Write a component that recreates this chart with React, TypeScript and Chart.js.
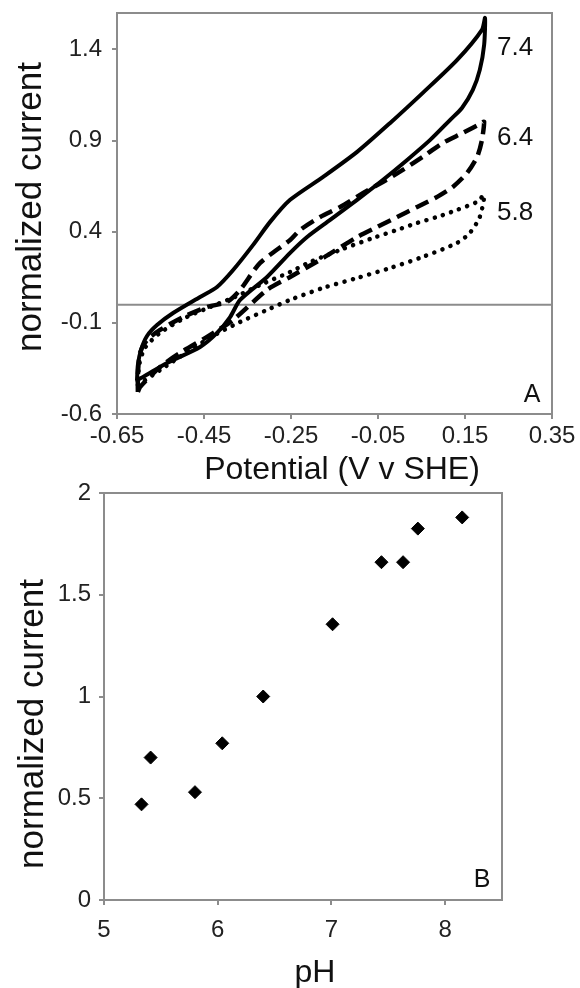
import React, { useEffect, useRef } from "react";
import { Chart, registerables } from "chart.js";

Chart.register(...registerables);

// ---------- Panel A: cyclic voltammograms (V v SHE, normalized current) ----------
const cv74LowerV = [-0.604, -0.590, -0.535, -0.459, -0.420, -0.390, -0.367, -0.305, -0.252, -0.213, -0.160, -0.098, -0.039, 0.017, 0.070, 0.116, 0.143, 0.168, 0.184, 0.194, 0.196];
const cv74LowerI = [-0.413, -0.397, -0.320, -0.232, -0.155, -0.068, 0.026, 0.152, 0.284, 0.371, 0.465, 0.575, 0.684, 0.794, 0.904, 1.014, 1.079, 1.178, 1.288, 1.425, 1.573];
const cv74UpperV = [0.189, 0.132, 0.053, -0.022, -0.098, -0.176, -0.252, -0.298, -0.337, -0.383, -0.420, -0.459, -0.521, -0.558, -0.581, -0.595, -0.602, -0.604];
const cv74UpperI = [1.508, 1.343, 1.162, 0.997, 0.838, 0.701, 0.575, 0.454, 0.328, 0.190, 0.097, 0.042, -0.046, -0.112, -0.172, -0.249, -0.331, -0.413];

const cv64LowerV = [-0.602, -0.597, -0.551, -0.505, -0.443, -0.383, -0.305, -0.252, -0.176, -0.098, -0.052, -0.006, 0.040, 0.086, 0.122, 0.155, 0.178, 0.189, 0.194];
const cv64LowerI = [-0.479, -0.452, -0.342, -0.265, -0.177, -0.084, 0.081, 0.152, 0.256, 0.371, 0.426, 0.481, 0.536, 0.591, 0.646, 0.723, 0.811, 0.904, 1.003];
const cv64UpperV = [0.189, 0.145, 0.099, 0.053, 0.007, -0.039, -0.084, -0.137, -0.183, -0.229, -0.252, -0.321, -0.367, -0.397, -0.443, -0.498, -0.551, -0.581, -0.597, -0.602, -0.602];
const cv64UpperI = [0.997, 0.942, 0.887, 0.811, 0.739, 0.673, 0.613, 0.536, 0.481, 0.410, 0.355, 0.229, 0.081, 0.015, -0.013, -0.068, -0.139, -0.194, -0.265, -0.386, -0.479];

const cv58LowerV = [-0.602, -0.551, -0.482, -0.425, -0.367, -0.305, -0.252, -0.176, -0.098, -0.022, 0.053, 0.132, 0.161, 0.184, 0.194];
const cv58LowerI = [-0.441, -0.359, -0.249, -0.166, -0.095, -0.029, 0.026, 0.092, 0.146, 0.201, 0.262, 0.339, 0.393, 0.481, 0.602];
const cv58UpperV = [0.178, 0.132, 0.086, 0.040, -0.006, -0.061, -0.137, -0.206, -0.252, -0.321, -0.379, -0.436, -0.494, -0.551, -0.586, -0.599, -0.602];
const cv58UpperI = [0.564, 0.520, 0.481, 0.448, 0.410, 0.366, 0.300, 0.234, 0.179, 0.108, 0.042, -0.013, -0.073, -0.155, -0.238, -0.331, -0.441];

const cvTickX = [-0.65, -0.45, -0.25, -0.05, 0.15, 0.35];
const cvTickY = [-0.6, -0.1, 0.4, 0.9, 1.4];
const curveLabels = ["7.4", "6.4", "5.8"];
const curveLabelV = [0.265, 0.265, 0.265];
const curveLabelI = [1.41, 0.915, 0.505];

// ---------- Panel B: current vs pH ----------
const phValues = [5.33, 5.41, 5.80, 6.04, 6.40, 7.01, 7.44, 7.63, 7.76, 8.15];
const phCurrent = [0.47, 0.70, 0.53, 0.77, 1.00, 1.355, 1.66, 1.66, 1.825, 1.88];
const phTickX = [5, 6, 7, 8];
const phTickY = [0, 0.5, 1, 1.5, 2];

const FONT = "'Liberation Sans', Arial, sans-serif";
const GREY = "#8c8c8c";
const INK = "#111111";

const toPts = (xs: number[], ys: number[]) => xs.map((x, i) => ({ x, y: ys[i] }));
const loop = (lv: number[], li: number[], uv: number[], ui: number[]) =>
  toPts(lv, li).concat(toPts(uv, ui));

const framePlugin = {
  id: "frame",
  beforeDatasetsDraw(chart: any) {
    const { ctx, chartArea } = chart;
    const { left, top, right, bottom } = chartArea;
    ctx.save();
    ctx.strokeStyle = GREY;
    ctx.lineWidth = 2;
    ctx.strokeRect(left, top, right - left, bottom - top);
    ctx.restore();
  },
};

const annotPlugin = {
  id: "annot",
  afterDatasetsDraw(chart: any, _args: any, opts: any) {
    const { ctx, chartArea } = chart;
    ctx.save();
    ctx.fillStyle = INK;
    ctx.textAlign = "center";
    ctx.textBaseline = "middle";
    ctx.font = `26px ${FONT}`;
    (opts.labels || []).forEach((l: any) => {
      ctx.fillText(l.text, chart.scales.x.getPixelForValue(l.x), chart.scales.y.getPixelForValue(l.y));
    });
    if (opts.panel) {
      ctx.font = `25px ${FONT}`;
      ctx.fillText(opts.panel, chartArea.right - 20, chartArea.bottom - opts.panelDy);
    }
    (opts.titles || []).forEach((t: any) => {
      ctx.save();
      ctx.font = `${t.size}px ${FONT}`;
      ctx.translate(t.cx, t.cy);
      if (t.rotate) ctx.rotate(-Math.PI / 2);
      ctx.fillText(t.text, 0, 0);
      ctx.restore();
    });
    ctx.restore();
  },
};

const gridOpts = { drawOnChartArea: false, drawTicks: true, tickLength: 5, color: GREY, lineWidth: 2 };
const noEdgePadding = (s: any) => {
  s.paddingTop = 0;
  s.paddingBottom = 0;
  s.paddingLeft = 0;
  s.paddingRight = 0;
};

function makeConfigA(): any {
  return {
    type: "scatter",
    data: {
      datasets: [
        {
          data: loop(cv74LowerV, cv74LowerI, cv74UpperV, cv74UpperI),
          showLine: true, borderColor: "#000", borderWidth: 4, pointRadius: 0, tension: 0.25,
          borderCapStyle: "round", borderJoinStyle: "round",
        },
        {
          data: loop(cv64LowerV, cv64LowerI, cv64UpperV, cv64UpperI),
          showLine: true, borderColor: "#000", borderWidth: 4.5, pointRadius: 0, tension: 0.25,
          borderDash: [14, 7],
        },
        {
          data: loop(cv58LowerV, cv58LowerI, cv58UpperV, cv58UpperI),
          showLine: true, borderColor: "#000", borderWidth: 4.5, pointRadius: 0, tension: 0.25,
          borderDash: [0.1, 8.5], borderCapStyle: "round",
        },
        {
          data: [{ x: -0.65, y: 0 }, { x: 0.35, y: 0 }],
          showLine: true, borderColor: GREY, borderWidth: 2, pointRadius: 0,
        },
      ],
    },
    options: {
      animation: false,
      responsive: false,
      layout: { padding: { top: 13, right: 28, left: 0, bottom: 0 } },
      plugins: {
        legend: { display: false },
        tooltip: { enabled: false },
        annot: {
          labels: curveLabels.map((t, i) => ({ text: t, x: curveLabelV[i], y: curveLabelI[i] })),
          panel: "A",
          panelDy: 19,
          titles: [
            { text: "normalized current", cx: 31, cy: 207, size: 35, rotate: true },
            { text: "Potential (V v SHE)", cx: 342, cy: 470, size: 32, rotate: false },
          ],
        },
      },
      scales: {
        x: {
          type: "linear", min: -0.65, max: 0.35,
          afterBuildTicks: (s: any) => { s.ticks = cvTickX.map((v) => ({ value: v })); },
          afterFit: (s: any) => { s.height = 76; noEdgePadding(s); },
          ticks: { callback: (v: any) => Number(v).toFixed(2), font: { size: 24, family: FONT }, color: "#222", padding: 3, maxRotation: 0, autoSkip: false },
          grid: gridOpts,
          border: { display: false },
          title: { display: false },
        },
        y: {
          type: "linear", min: -0.6, max: 1.6,
          afterBuildTicks: (s: any) => { s.ticks = cvTickY.map((v) => ({ value: v })); },
          afterFit: (s: any) => { s.width = 117; noEdgePadding(s); },
          ticks: { callback: (v: any) => Number(v).toFixed(1), font: { size: 24, family: FONT }, color: "#222", padding: 10, autoSkip: false },
          grid: gridOpts,
          border: { display: false },
          title: { display: false },
        },
      },
    },
    plugins: [framePlugin, annotPlugin],
  };
}

function makeConfigB(): any {
  return {
    type: "scatter",
    data: {
      datasets: [
        {
          data: toPts(phValues, phCurrent),
          pointStyle: "rectRot", pointRadius: 6.5, backgroundColor: "#000", borderColor: "#000", borderWidth: 1,
        },
      ],
    },
    options: {
      animation: false,
      responsive: false,
      layout: { padding: { top: 23, right: 78, left: 0, bottom: 0 } },
      plugins: {
        legend: { display: false },
        tooltip: { enabled: false },
        annot: {
          labels: [],
          panel: "B",
          panelDy: 20,
          titles: [
            { text: "normalized current", cx: 33, cy: 254, size: 35, rotate: true },
            { text: "pH", cx: 315, cy: 503, size: 32, rotate: false },
          ],
        },
      },
      scales: {
        x: {
          type: "linear", min: 5, max: 8.5,
          afterBuildTicks: (s: any) => { s.ticks = phTickX.map((v) => ({ value: v })); },
          afterFit: (s: any) => { s.height = 100; noEdgePadding(s); },
          ticks: { callback: (v: any) => String(v), font: { size: 24, family: FONT }, color: "#222", padding: 11, maxRotation: 0, autoSkip: false },
          grid: gridOpts,
          border: { display: false },
          title: { display: false },
        },
        y: {
          type: "linear", min: 0, max: 2,
          afterBuildTicks: (s: any) => { s.ticks = phTickY.map((v) => ({ value: v })); },
          afterFit: (s: any) => { s.width = 104; noEdgePadding(s); },
          ticks: { callback: (v: any) => String(v), font: { size: 24, family: FONT }, color: "#222", padding: 8, autoSkip: false },
          grid: gridOpts,
          border: { display: false },
          title: { display: false },
        },
      },
    },
    plugins: [framePlugin, annotPlugin],
  };
}

export default function App() {
  const refA = useRef<HTMLCanvasElement>(null);
  const refB = useRef<HTMLCanvasElement>(null);

  useEffect(() => {
    const a = new Chart(refA.current as HTMLCanvasElement, makeConfigA());
    const b = new Chart(refB.current as HTMLCanvasElement, makeConfigB());
    return () => {
      a.destroy();
      b.destroy();
    };
  }, []);

  return (
    <div style={{ position: "absolute", left: 0, top: 0, width: 580, height: 988, overflow: "hidden", background: "#fff" }}>
      <canvas ref={refA} width={580} height={490} style={{ position: "absolute", left: 0, top: 0 }} />
      <canvas ref={refB} width={580} height={530} style={{ position: "absolute", left: 0, top: 470 }} />
    </div>
  );
}
